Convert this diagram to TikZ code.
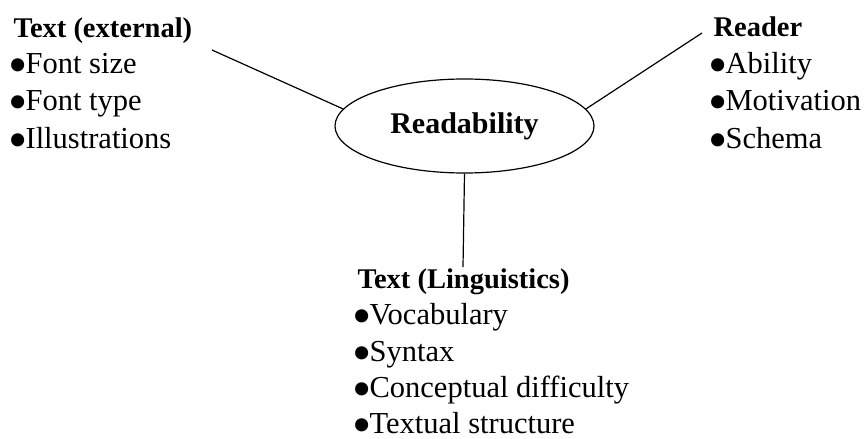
\documentclass[tikz,border=0pt]{standalone}
\usepackage{fontspec}
\setmainfont{Liberation Serif}
\usetikzlibrary{shapes.geometric}
\newcommand\bul[1]{\makebox[17pt][l]{\smash{\raisebox{-10pt}{\scalebox{1.8}{\textbullet}}}}#1}

\begin{document}
\begin{tikzpicture}[x=1pt,y=-1pt,line width=1.2pt,
    head/.style={anchor=base west,inner sep=0pt,font=\fontsize{28.5}{28.5}\selectfont\bfseries},
    item/.style={anchor=base west,inner sep=0pt,font=\fontsize{30.5}{30.5}\selectfont},
    hub/.style={draw,ellipse,minimum width=259pt,minimum height=94pt,inner sep=0pt,
        font=\fontsize{30}{30}\selectfont\bfseries}]
\useasboundingbox (0,0) rectangle (868,439);
\node[hub] (read) at (464.5,126) {Readability};

\node[head] (ext) at (13,37) {Text (external)};
\node[item] (ext1) at (8,73) {\bul{Font size}};
\node[item] (ext2) at (8,110) {\bul{Font type}};
\node[item] (ext3) at (8,148) {\bul{Illustrations}};

\node[head] (rdr) at (713,36) {Reader};
\node[item] (rdr1) at (708,73) {\bul{Ability}};
\node[item] (rdr2) at (708,110) {\bul{Motivation}};
\node[item] (rdr3) at (708,148) {\bul{Schema}};

\node[head] (ling) at (357,288) {Text (Linguistics)};
\node[item] (ling1) at (352,324) {\bul{Vocabulary}};
\node[item] (ling2) at (352,361) {\bul{Syntax}};
\node[item] (ling3) at (352,397) {\bul{Conceptual difficulty}};
\node[item] (ling4) at (352,433) {\bul{Textual structure}};

\coordinate (extend) at (212,50);
\coordinate (rdrend) at (702,33);
\coordinate (lingend) at (463,267);
\draw (read.172.5) -- (extend);
\draw (read.8.3) -- (rdrend);
\draw (read.south) -- (lingend);
\end{tikzpicture}
\end{document}
